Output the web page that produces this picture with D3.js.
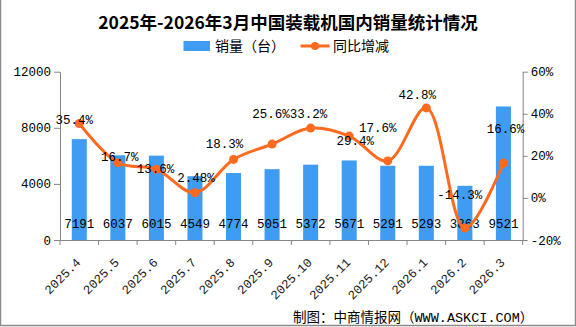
<!DOCTYPE html>
<html><head><meta charset="utf-8">
<script src="https://cdn.jsdelivr.net/npm/d3@7"></script>
<style>body{margin:0;background:#fff}svg{display:block}</style>
</head><body>
<svg id="c" width="576" height="327"></svg>
<script>
const categories = ["2025.4","2025.5","2025.6","2025.7","2025.8","2025.9","2025.10","2025.11","2025.12","2026.1","2026.2","2026.3"];
const sales = [7191,6037,6015,4549,4774,5051,5372,5671,5291,5293,3863,9521];
const yoy = [35.4,16.7,13.6,2.48,18.3,25.6,33.2,29.4,17.6,42.8,-14.3,16.6];
const yoyLabels = ["35.4%","16.7%","13.6%","2.48%","18.3%","25.6%","33.2%","29.4%","17.6%","42.8%","-14.3%","16.6%"];
const leftTicks = [0,4000,8000,12000];
const rightTicks = [-20,0,20,40,60];

// label placement offsets (layout only)
const labelOffsets = [[-5,-4],[2,-6],[-1,-1],[1,-15],[-9,-15.5],[-1,-30.5],[-2,-14.5],[6,5],[-10,-33],[-9,-13],[-5,-33.5],[2,-34]];

const svg = d3.select("#c");
const L = 60, R = 522.7, T = 71.7, B = 240;
const BLUE = "#3F9CF2", ORANGE = "#FF6A1F", AX = "#868686";
const MONO = "'Liberation Mono','DejaVu Sans Mono',monospace";
const CJK = "'Noto Sans CJK SC','Noto Sans',sans-serif";

const x = d3.scaleBand().domain(categories).range([L, R]).padding(0);
const yL = d3.scaleLinear().domain([0,12000]).range([B, T]);
const yR = d3.scaleLinear().domain([-20,60]).range([B, T]);
const cx = d => x(d) + x.bandwidth()/2;
const bw = x.bandwidth()*0.39;

// frame
svg.append("path").attr("d","M0.5,0 V325.5 H575.5 V0").attr("fill","none").attr("stroke","#8a8a8a").attr("stroke-width",1.5);

// title
svg.append("text").attr("x",288).attr("y",29).attr("text-anchor","middle")
  .attr("font-family",CJK).attr("font-weight","bold").attr("font-size",17.5).attr("fill","#000")
  .text("2025年-2026年3月中国装载机国内销量统计情况");

// legend
svg.append("rect").attr("x",183.5).attr("y",41).attr("width",26.5).attr("height",10).attr("fill",BLUE);
svg.append("text").attr("x",215).attr("y",51).attr("font-family",CJK).attr("font-size",14).attr("fill","#000").text("销量（台）");
svg.append("line").attr("x1",300.5).attr("x2",329.5).attr("y1",46).attr("y2",46).attr("stroke",ORANGE).attr("stroke-width",3);
svg.append("circle").attr("cx",315).attr("cy",46).attr("r",4).attr("fill",ORANGE);
svg.append("text").attr("x",333).attr("y",51).attr("font-family",CJK).attr("font-size",14).attr("fill","#000").text("同比增减");

// bars
svg.append("g").selectAll("rect").data(categories).join("rect")
  .attr("x",(d)=>cx(d)-bw/2).attr("width",bw)
  .attr("y",(d,i)=>yL(sales[i])).attr("height",(d,i)=>yL(0)-yL(sales[i]))
  .attr("fill",BLUE);

// axes
const gl = svg.append("g").attr("transform",`translate(${L},0)`)
  .call(d3.axisLeft(yL).tickValues(leftTicks).tickFormat(d3.format("d")).tickSize(6).tickSizeOuter(0).tickPadding(3));
const gr = svg.append("g").attr("transform",`translate(${R},0)`)
  .call(d3.axisRight(yR).tickValues(rightTicks).tickSize(5).tickSizeOuter(0).tickPadding(3).tickFormat(d=>d+"%"));
const gb = svg.append("g").attr("transform",`translate(0,${B})`)
  .call(d3.axisBottom(x).tickSize(0).tickSizeOuter(0).tickPadding(0));
[gl,gr,gb].forEach(g=>{
  g.selectAll("path,line").attr("stroke",AX).attr("stroke-width",1);
  g.selectAll("text").attr("font-family",MONO).attr("font-size",12.5).attr("fill","#000");
});
// x boundary ticks
svg.append("g").selectAll("line").data(categories.map(d=>x(d)).concat([R])).join("line")
  .attr("x1",d=>d).attr("x2",d=>d).attr("y1",B).attr("y2",B+5).attr("stroke",AX);
gb.selectAll(".tick text").attr("text-anchor","end")
  .attr("transform","translate(-1,20) rotate(-45)").attr("dy","0.35em").attr("y",0).attr("fill","#222");

// bar value labels
svg.append("g").selectAll("text").data(categories).join("text")
  .attr("x",d=>cx(d)).attr("y",228).attr("text-anchor","middle")
  .attr("font-family",MONO).attr("font-size",12.5).attr("fill","#000")
  .text((d,i)=>sales[i]);

// line
const pts = categories.map((d,i)=>[cx(d), yR(yoy[i])]);
svg.append("path").attr("d", d3.line().curve(d3.curveCatmullRom.alpha(0.5))(pts))
  .attr("fill","none").attr("stroke",ORANGE).attr("stroke-width",3);
svg.append("g").selectAll("circle").data(pts).join("circle")
  .attr("cx",d=>d[0]).attr("cy",d=>d[1]).attr("r",4.5).attr("fill",ORANGE);

// line labels
svg.append("g").selectAll("text").data(pts).join("text")
  .attr("x",(d,i)=>d[0]+labelOffsets[i][0]).attr("y",(d,i)=>d[1]+labelOffsets[i][1])
  .attr("dy","0.35em").attr("text-anchor","middle")
  .attr("font-family",MONO).attr("font-size",12.5).attr("fill","#000")
  .text((d,i)=>yoyLabels[i]);

// source
svg.append("text").attr("x",293).attr("y",322).attr("font-family","'Liberation Mono','Noto Sans CJK SC',monospace")
  .attr("font-size",13.5).attr("fill","#000").text("制图：中商情报网（WWW.ASKCI.COM）");
</script>
</body></html>
